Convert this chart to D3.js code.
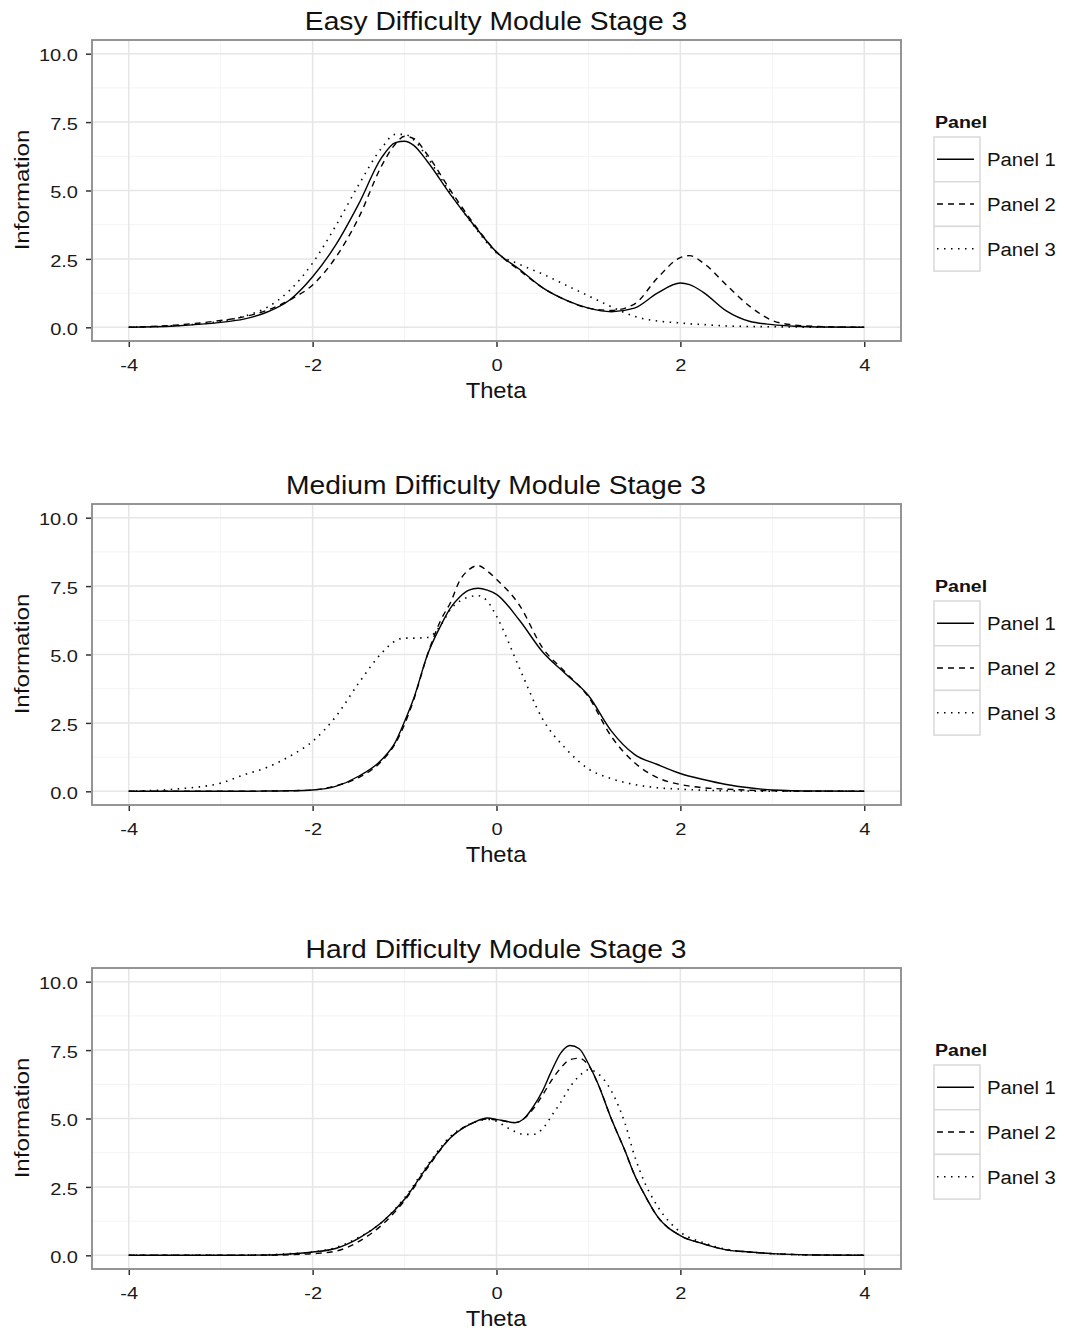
<!DOCTYPE html>
<html>
<head>
<meta charset="utf-8">
<script src="https://cdn.jsdelivr.net/npm/d3@7"></script>
<style>
  body { margin: 0; background: #fff; }
  svg { display: block; }
  text { font-family: "Liberation Sans", Arial, sans-serif; }
</style>
</head>
<body>
<div id="graph"></div>
<script>
// Chart data
const panelTitles = ["Easy Difficulty Module Stage 3", "Medium Difficulty Module Stage 3", "Hard Difficulty Module Stage 3"];
const seriesNames = ["Panel 1", "Panel 2", "Panel 3"];
const xTicks = [-4, -2, 0, 2, 4];
const yTicks = [0, 2.5, 5, 7.5, 10];

// Easy module
const easyTheta = [-4, -3.5, -3, -2.75, -2.5, -2.25, -2, -1.75, -1.5, -1.25, -1.1, -1, -0.9, -0.75, -0.5, -0.25, 0, 0.25, 0.5, 0.75, 1, 1.25, 1.5, 1.75, 2, 2.1, 2.25, 2.5, 2.75, 3, 3.25, 3.5, 4];
const easyPanel1 = [0, 0.05, 0.18, 0.3, 0.55, 1.0, 1.85, 3.0, 4.5, 6.2, 6.75, 6.8, 6.65, 6.05, 4.85, 3.75, 2.75, 2.12, 1.45, 1.0, 0.7, 0.57, 0.7, 1.25, 1.62, 1.56, 1.28, 0.6, 0.22, 0.1, 0.04, 0.01, 0];
const easyPanel2 = [0, 0.08, 0.25, 0.38, 0.62, 1.0, 1.55, 2.55, 4.0, 5.9, 6.7, 6.98, 6.9, 6.3, 5.0, 3.8, 2.75, 2.08, 1.45, 1.0, 0.7, 0.62, 0.85, 1.8, 2.55, 2.62, 2.35, 1.55, 0.78, 0.25, 0.08, 0.03, 0];
const easyPanel3 = [0, 0.06, 0.22, 0.4, 0.72, 1.35, 2.35, 3.7, 5.2, 6.55, 7.05, 7.05, 6.85, 6.2, 4.9, 3.72, 2.72, 2.3, 1.95, 1.55, 1.15, 0.75, 0.4, 0.23, 0.16, 0.13, 0.1, 0.05, 0.03, 0.02, 0.01, 0, 0];

// Medium module
const mediumTheta = [-4, -3.5, -3, -2.75, -2.5, -2.25, -2, -1.75, -1.5, -1.25, -1.1, -1, -0.9, -0.75, -0.6, -0.5, -0.4, -0.3, -0.2, -0.1, 0, 0.25, 0.5, 0.75, 1, 1.25, 1.5, 1.75, 2, 2.25, 2.5, 2.75, 3, 3.5, 4];
const mediumPanel1 = [0, 0, 0, 0, 0.01, 0.02, 0.05, 0.18, 0.55, 1.15, 1.8, 2.55, 3.4, 5.0, 6.1, 6.7, 7.1, 7.35, 7.42, 7.35, 7.2, 6.25, 5.1, 4.3, 3.5, 2.2, 1.35, 0.98, 0.65, 0.43, 0.25, 0.13, 0.05, 0.01, 0];
const mediumPanel2 = [0, 0, 0, 0, 0.01, 0.02, 0.05, 0.2, 0.5, 1.1, 1.75, 2.45, 3.35, 5.0, 6.3, 6.9, 7.7, 8.1, 8.25, 8.05, 7.75, 6.8, 5.25, 4.35, 3.45, 2.0, 1.05, 0.5, 0.25, 0.13, 0.08, 0.04, 0.02, 0, 0];
const mediumPanel3 = [0, 0.08, 0.3, 0.6, 0.87, 1.28, 1.83, 2.72, 3.95, 5.05, 5.5, 5.6, 5.6, 5.62, 6.1, 6.65, 6.95, 7.1, 7.15, 6.95, 6.4, 4.5, 2.65, 1.57, 0.82, 0.46, 0.25, 0.13, 0.08, 0.04, 0.02, 0.01, 0, 0, 0];

// Hard module
const hardTheta = [-4, -3, -2.5, -2.25, -2, -1.75, -1.5, -1.25, -1, -0.75, -0.5, -0.25, -0.1, 0, 0.1, 0.2, 0.3, 0.4, 0.5, 0.6, 0.7, 0.8, 0.9, 1, 1.1, 1.25, 1.4, 1.5, 1.6, 1.75, 2, 2.25, 2.5, 2.75, 3, 3.5, 4];
const hardPanel1 = [0, 0, 0.01, 0.05, 0.12, 0.25, 0.62, 1.2, 2.05, 3.25, 4.3, 4.85, 5.02, 4.97, 4.9, 4.85, 5.0, 5.43, 6.0, 6.75, 7.4, 7.67, 7.55, 7.0, 6.3, 4.98, 3.8, 2.95, 2.28, 1.42, 0.72, 0.42, 0.2, 0.12, 0.06, 0.01, 0];
const hardPanel2 = [0, 0, 0, 0.02, 0.06, 0.15, 0.5, 1.1, 2.0, 3.2, 4.3, 4.85, 4.98, 4.95, 4.9, 4.85, 5.0, 5.35, 5.85, 6.4, 6.85, 7.15, 7.2, 6.95, 6.3, 4.98, 3.8, 2.95, 2.28, 1.42, 0.72, 0.42, 0.2, 0.12, 0.06, 0.01, 0];
const hardPanel3 = [0, 0, 0.02, 0.06, 0.12, 0.28, 0.65, 1.2, 2.1, 3.3, 4.35, 4.85, 4.97, 4.9, 4.7, 4.52, 4.42, 4.42, 4.62, 5.1, 5.6, 6.15, 6.55, 6.78, 6.65, 6.0, 4.8, 3.65, 2.75, 1.8, 0.85, 0.46, 0.22, 0.12, 0.06, 0.01, 0];

const panels = [
    { title: panelTitles[0], theta: easyTheta, series: [easyPanel1, easyPanel2, easyPanel3] },
    { title: panelTitles[1], theta: mediumTheta, series: [mediumPanel1, mediumPanel2, mediumPanel3] },
    { title: panelTitles[2], theta: hardTheta, series: [hardPanel1, hardPanel2, hardPanel3] }
];

// Layout
let width = 1065;
let height = 1335;
let panelStep = 464;
let dashes = [null, "6,5", "1.5,5.5"];

let xScale = d3.scaleLinear().domain([-4.4, 4.4]).range([92, 901]);
let yScale = d3.scaleLinear().domain([-0.5, 10.5]).range([341, 40]);

let line = d3.line()
    .x(d => xScale(d[0]))
    .y(d => yScale(d[1]))
    .curve(d3.curveMonotoneX);

let svg = d3.select("#graph")
    .append("svg")
    .attr("width", width)
    .attr("height", height);

// text is drawn a little wider than the font, like the original
function label(g, x, y, txt, size, sx, anchor) {
    return g.append("text")
        .attr("transform", "translate(" + x + "," + y + ") scale(" + sx + ",1)")
        .attr("text-anchor", anchor)
        .attr("font-size", size)
        .attr("fill", "#111")
        .text(txt);
}

panels.forEach((p, i) => {
    let g = svg.append("g").attr("transform", "translate(0," + (i * panelStep) + ")");

    // minor grid
    g.selectAll(".minor-x").data([-3, -1, 1, 3]).enter().append("line")
        .attr("x1", d => xScale(d)).attr("x2", d => xScale(d))
        .attr("y1", 40).attr("y2", 341)
        .attr("stroke", "#f4f4f4").attr("stroke-width", 1);
    g.selectAll(".minor-y").data([1.25, 3.75, 6.25, 8.75]).enter().append("line")
        .attr("x1", 92).attr("x2", 901)
        .attr("y1", d => yScale(d)).attr("y2", d => yScale(d))
        .attr("stroke", "#f4f4f4").attr("stroke-width", 1);

    // major grid
    g.selectAll(".major-x").data(xTicks).enter().append("line")
        .attr("x1", d => xScale(d)).attr("x2", d => xScale(d))
        .attr("y1", 40).attr("y2", 341)
        .attr("stroke", "#e6e6e6").attr("stroke-width", 1.5);
    g.selectAll(".major-y").data(yTicks).enter().append("line")
        .attr("x1", 92).attr("x2", 901)
        .attr("y1", d => yScale(d)).attr("y2", d => yScale(d))
        .attr("stroke", "#e6e6e6").attr("stroke-width", 1.5);

    // curves
    p.series.forEach((vals, k) => {
        g.append("path")
            .datum(d3.zip(p.theta, vals))
            .attr("fill", "none")
            .attr("stroke", "#000")
            .attr("stroke-width", k == 2 ? 1.6 : 1.4)
            .attr("stroke-linejoin", "round")
            .attr("stroke-dasharray", dashes[k])
            .attr("d", line);
    });

    // panel border
    g.append("rect")
        .attr("x", 92).attr("y", 40)
        .attr("width", 809).attr("height", 301)
        .attr("fill", "none")
        .attr("stroke", "#8a8a8a")
        .attr("stroke-width", 1.8);

    // axes
    let ya = g.append("g")
        .attr("transform", "translate(91,0)")
        .call(d3.axisLeft(yScale).tickValues(yTicks).tickFormat(d3.format(".1f")).tickSize(5).tickPadding(8));
    let xa = g.append("g")
        .attr("transform", "translate(0,342)")
        .call(d3.axisBottom(xScale).tickValues(xTicks).tickFormat(d => String(d)).tickSize(5).tickPadding(12));
    [ya, xa].forEach(a => {
        a.select(".domain").remove();
        a.selectAll(".tick line").attr("stroke", "#333").attr("stroke-width", 1.5);
        a.selectAll(".tick text")
            .attr("font-family", "'Liberation Sans', Arial, sans-serif")
            .attr("font-size", 17)
            .attr("fill", "#1a1a1a");
    });
    ya.selectAll(".tick text").attr("x", -13 / 1.18).attr("dy", "0.42em").attr("transform", "scale(1.18,1)");
    xa.selectAll(".tick text").attr("transform", "scale(1.18,1)");

    // titles
    label(g, 496, 30, p.title, 25, 1.13, "middle");
    label(g, 496, 398, "Theta", 22, 1.08, "middle");
    g.append("text")
        .attr("transform", "translate(29,190) rotate(-90) scale(1.15,1)")
        .attr("text-anchor", "middle")
        .attr("font-size", 21)
        .attr("fill", "#111")
        .text("Information");

    // legend
    let lg = g.append("g");
    label(lg, 935, 128, "Panel", 17, 1.15, "start").attr("font-weight", "bold");
    seriesNames.forEach((name, k) => {
        let top = 137 + k * 44.7;
        let mid = top + 22.3;
        lg.append("rect")
            .attr("x", 934).attr("y", top)
            .attr("width", 46).attr("height", 44.7)
            .attr("fill", "#fff")
            .attr("stroke", "#d9d9d9")
            .attr("stroke-width", 1.5);
        lg.append("line")
            .attr("x1", 937).attr("x2", 974)
            .attr("y1", mid).attr("y2", mid)
            .attr("stroke", "#000")
            .attr("stroke-width", k == 2 ? 1.6 : 1.4)
            .attr("stroke-dasharray", dashes[k]);
        label(lg, 987, mid + 7, name, 18, 1.13, "start");
    });
});
</script>
</body>
</html>
